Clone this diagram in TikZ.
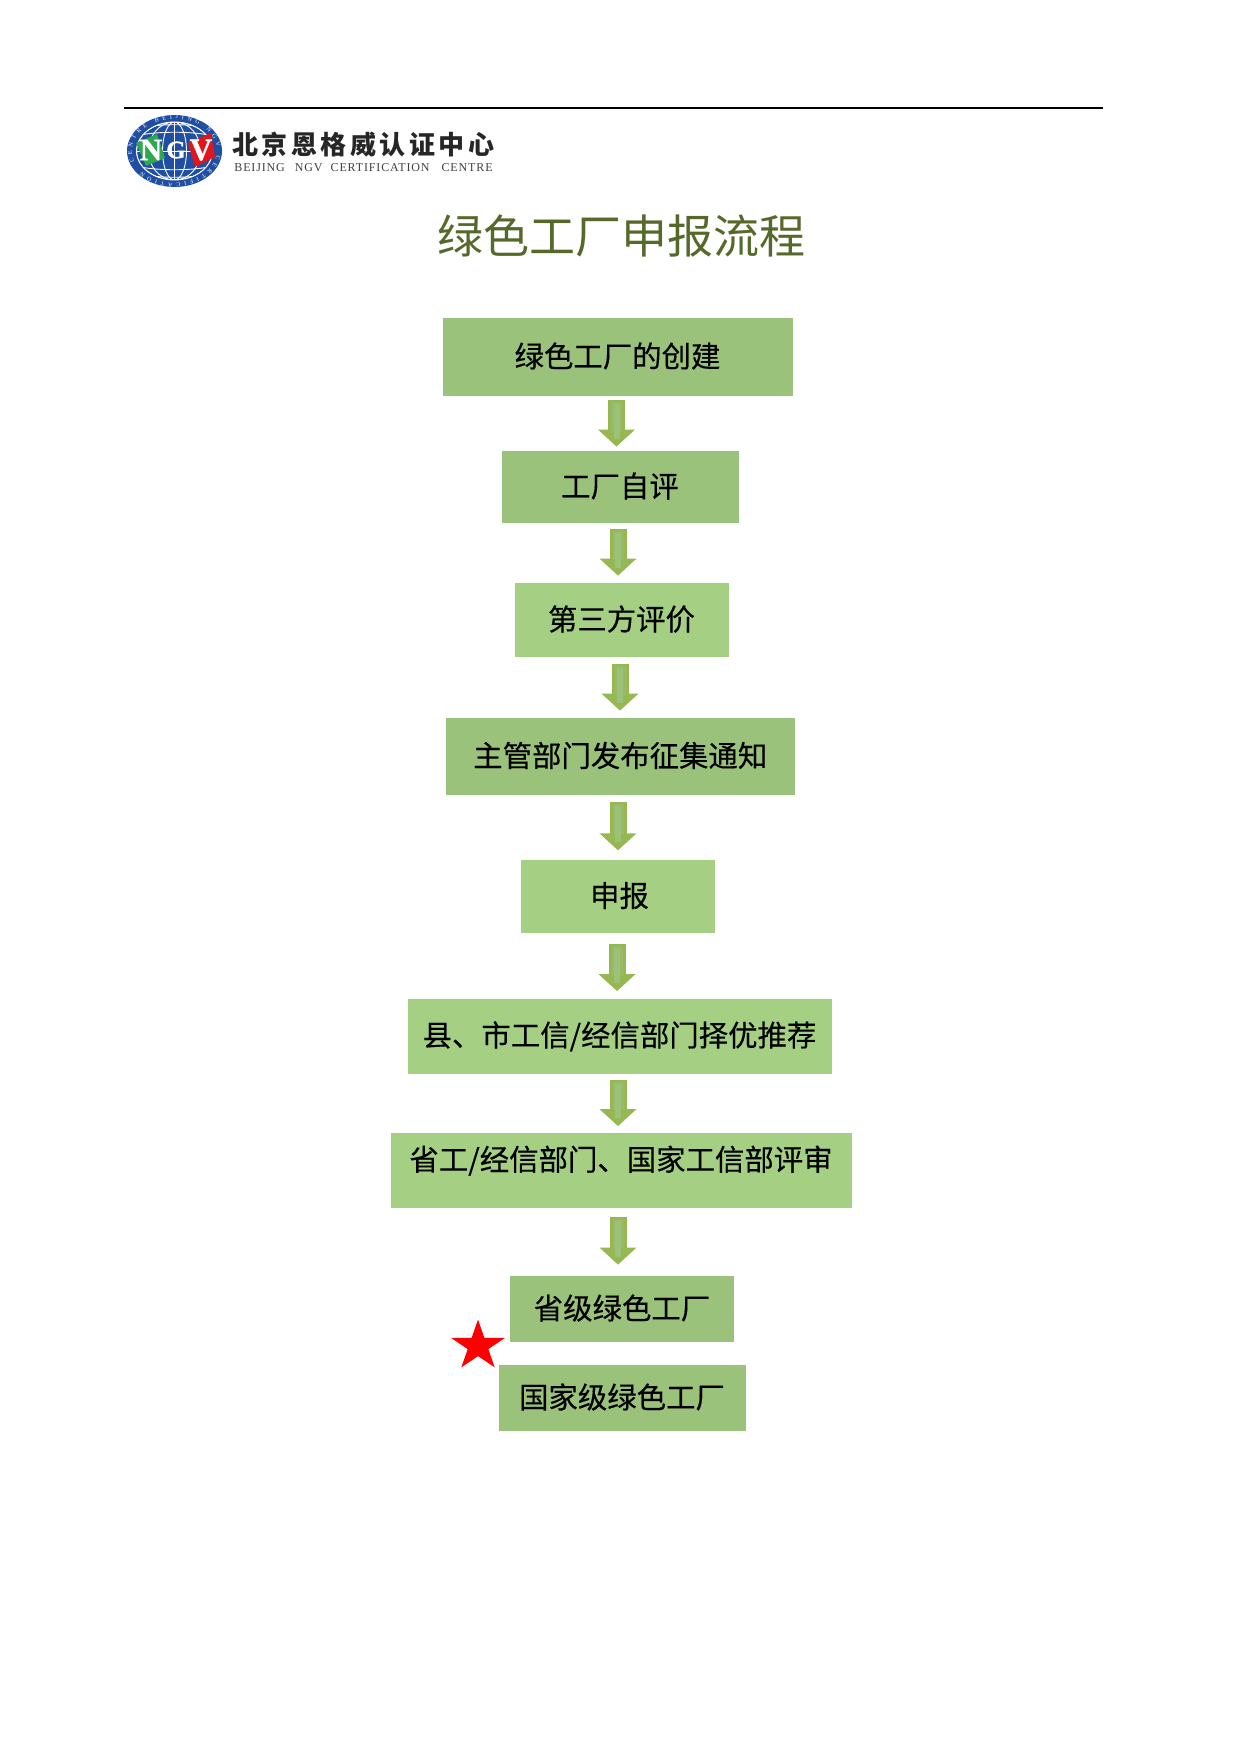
\documentclass[tikz,border=0pt]{standalone}
\usepackage{fontspec}
\usetikzlibrary{arrows.meta,shapes.geometric,decorations.text}
\newfontfamily\cjk{Noto Sans CJK SC}
\newfontfamily\cjkbox[FakeBold=0.35]{Noto Sans CJK SC}
\newfontfamily\cjklogo[LetterSpace=13.5]{Noto Sans CJK SC}
\newfontfamily\serifen[LetterSpace=7.2]{Liberation Serif}
\newfontfamily\serifb{Liberation Serif}
\newfontfamily\serifheavy[FakeBold=1.2]{Liberation Serif Bold}
\definecolor{boxdark}{HTML}{9BC27A}
\definecolor{boxlight}{HTML}{A5D083}
\definecolor{arrowedge}{HTML}{96B853}
\definecolor{arrowmid}{HTML}{98BC65}
\definecolor{arrowcore}{HTML}{9CC17A}
\definecolor{titlecol}{HTML}{56692B}
\definecolor{globeblue}{HTML}{1F4EA3}
\definecolor{logogreen}{HTML}{2FA84F}
\definecolor{logored}{HTML}{E3141C}
\tikzset{
  flowbox/.style={rectangle,inner sep=0pt,font=\cjkbox\fontsize{14.7pt}{14.7pt}\selectfont,text=black,
    align=center,text height=12.2pt,text depth=2pt},
  dark/.style={flowbox,fill=boxdark},
  light/.style={flowbox,fill=boxlight},
  arrowbody/.style={draw=arrowedge,line width=8.5pt,-{Triangle[width=18pt,length=8.5pt,fill=arrowedge]}},
  logoline/.style={draw=white,line width=0.45pt},
  logoletter/.style={font=\serifheavy\fontsize{15.5pt}{15.5pt}\selectfont,text=white,inner sep=0pt}
}
% arrow x-position, from node, to node, gap at start, gap at end (all in pt)
\newcommand{\flowarrow}[5]{%
  \draw[arrowbody,shorten <=#4,shorten >=#5] (#1 |- #2.south) -- (#1 |- #3.north);
  \draw[draw=arrowmid,line width=5.5pt,shorten <=#4+1pt,shorten >=#5+8pt] (#1 |- #2.south) -- (#1 |- #3.north);
  \draw[draw=arrowcore,line width=3pt,shorten <=#4+2pt,shorten >=#5+4pt] (#1 |- #2.south) -- (#1 |- #3.north);
}
\begin{document}
\begin{tikzpicture}[x=0.5pt,y=-0.5pt]
\useasboundingbox[fill=white] (0,0) rectangle (1241,1755);
% header rule
\coordinate (ruleL) at (124,108);
\coordinate (ruleR) at (1103,108);
\draw[line width=1pt,black] (ruleL) -- (ruleR);
% logo globe
\fill[globeblue] (174.5,151) ellipse [x radius=47.5,y radius=36];
\begin{scope}
  \clip (174.5,151) ellipse [x radius=38,y radius=29];
  \foreach \r in {12,26,38}{\draw[logoline] (174.5,151) ellipse [x radius=\r,y radius=29];}
  \draw[logoline] (174.5,122) -- (174.5,180);
  \draw[logoline] (136,151) -- (213,151);
  \draw[logoline] (136,136) .. controls (155,131) and (194,131) .. (213,136);
  \draw[logoline] (136,166) .. controls (155,171) and (194,171) .. (213,166);
  \draw[logoline] (146,127) .. controls (160,124) and (189,124) .. (203,127);
  \draw[logoline] (146,175) .. controls (160,178) and (189,178) .. (203,175);
\end{scope}
\draw[logoline] (174.5,151) ellipse [x radius=38,y radius=29];
\path[postaction={decorate},decoration={text along path,text align=fit to path,
  text={|\serifb\fontsize{3pt}{3pt}\selectfont\color{white}|CENTRE BEIJING NGV CERTIFICATION}}]
  (174.5,151) ++(160:42.5 and 32) arc [start angle=160,end angle=500,x radius=42.5,y radius=32];
\fill[logogreen] (136,143) -- (157,134) -- (165,158) -- (146,166) -- cycle;
\fill[logored] (188,143) -- (211,133) -- (215,157) -- (195,167) -- cycle;
\node[logoletter] (logoN) at (151,150) {N};
\node[logoletter,font=\serifheavy\fontsize{12.5pt}{12.5pt}\selectfont] (logoG) at (176,150) {G};
\node[logoletter] (logoV) at (201,150) {V};
\node[inner sep=0pt,anchor=west,font=\cjklogo\bfseries\fontsize{13pt}{13pt}\selectfont,text=black!85] (logoCN) at (232,145) {北京恩格威认证中心};
\node[inner sep=0pt,anchor=west,font=\serifen\fontsize{6pt}{6pt}\selectfont,text=black!75] (logoEN) at (234,168) {BEIJING\hspace{5pt}NGV\hspace{4pt}CERTIFICATION\hspace{6pt}CENTRE};
% title
\node[inner sep=0pt,font=\cjk\fontsize{23pt}{23pt}\selectfont,text=titlecol] (title) at (621,235.5) {绿色工厂申报流程};
% boxes
\node[dark,minimum width=175pt,minimum height=39pt] (b1) at (617.5,357) {绿色工厂的创建};
\node[dark,minimum width=118.5pt,minimum height=36pt] (b2) at (620,487) {工厂自评};
\node[light,minimum width=107pt,minimum height=37pt] (b3) at (621.5,620) {第三方评价};
\node[dark,minimum width=174.75pt,minimum height=38.5pt] (b4) at (620.25,756.5) {主管部门发布征集通知};
\node[light,minimum width=97pt,minimum height=36.75pt] (b5) at (618,896.5) {\hspace{1.5pt}申报};
\node[light,minimum width=212pt,minimum height=37.5pt] (b6) at (619.5,1036) {县、市工信/经信部门择优推荐};
\node[light,minimum width=230.5pt,minimum height=37.75pt] (b7) at (621,1170.25) {\raisebox{5pt}{省工/经信部门、国家工信部评审}};
\node[dark,minimum width=112pt,minimum height=33pt] (b8) at (622,1309) {省级绿色工厂};
\node[dark,minimum width=123.5pt,minimum height=33pt] (b9) at (622,1398) {国家级绿色工厂};
\node[star,star points=5,star point ratio=2.618,fill=red,inner sep=0pt,minimum size=28.4pt,yscale=0.93] (star) at (478,1346) {};
% arrow axes
\coordinate (a1) at (616.5,0);
\coordinate (a2) at (618,0);
\coordinate (a3) at (620,0);
\coordinate (a4) at (618,0);
\coordinate (a5) at (617,0);
\coordinate (a6) at (618,0);
\coordinate (a7) at (618,0);
\flowarrow{a1}{b1}{b2}{2pt}{2pt}
\flowarrow{a2}{b2}{b3}{3pt}{3.5pt}
\flowarrow{a3}{b3}{b4}{3.5pt}{3.5pt}
\flowarrow{a4}{b4}{b5}{3.5pt}{4.5pt}
\flowarrow{a5}{b5}{b6}{5pt}{3.5pt}
\flowarrow{a6}{b6}{b7}{3pt}{3pt}
\flowarrow{a7}{b7}{b8}{4.5pt}{5.5pt}
\end{tikzpicture}
\end{document}
